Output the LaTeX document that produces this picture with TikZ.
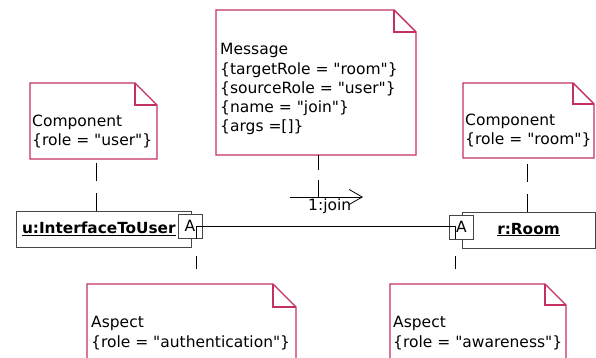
\documentclass[tikz,border=0pt]{standalone}
\usepackage{fontspec}
\newfontfamily\umlfont{DejaVu Sans}
\usetikzlibrary{arrows.meta}
\definecolor{notered}{RGB}{196,48,96}
\definecolor{boxgray}{RGB}{70,70,70}
\newcommand\dogear[2]{%
  \draw[noteline] (#1.north west) -- ([xshift=-#2pt]#1.north east) -- ([yshift=-#2pt]#1.north east) -- (#1.south east) -- (#1.south west) -- cycle;
  \draw[noteline] ([xshift=-#2pt]#1.north east) -- ([xshift=-#2pt,yshift=-#2pt]#1.north east) -- ([yshift=-#2pt]#1.north east);
}
\begin{document}
\begin{tikzpicture}[x=1pt,y=-1pt,
  every node/.style={font=\umlfont\fontsize{15.5}{19.3}\selectfont},
  notearea/.style={rectangle,inner sep=0pt,outer sep=0pt},
  noteline/.style={draw=notered,line width=1.4pt,line join=miter},
  notetext/.style={anchor=base west,align=left,inner sep=0pt},
  umlbox/.style={draw=boxgray,line width=0.9pt,fill=white,inner sep=0pt,text height=11pt,text depth=3pt,font=\umlfont\fontsize{15.3}{18}\selectfont\bfseries},
  portbox/.style={draw=boxgray,line width=0.9pt,fill=white,minimum size=24pt,inner sep=0pt},
  link/.style={draw=black,line width=0.8pt},
  anchorline/.style={draw=black,line width=0.8pt}
]
\useasboundingbox (0,0) rectangle (596,358);
\fill[white] (0,0) rectangle (596,358);
\clip (0,0) rectangle (596,358);

% notes
\node[notearea,minimum width=127pt,minimum height=76pt] (cl) at (93.5,121) {};
\node[notearea,minimum width=200pt,minimum height=145pt] (msg) at (316,82.5) {};
\node[notearea,minimum width=131pt,minimum height=75pt] (cr) at (528.5,120.5) {};
\node[notearea,minimum width=209pt,minimum height=91pt] (al) at (191.5,329.5) {};
\node[notearea,minimum width=176pt,minimum height=91pt] (ar) at (478,329.5) {};
\dogear{cl}{22}
\dogear{msg}{22}
\dogear{cr}{21}
\dogear{al}{23}
\dogear{ar}{21}

\node[notetext] (cltext) at (32,146) {Component\\\{role = "user"\}};
\node[notetext] (msgtext) at (220,132) {Message\\\{targetRole = "room"\}\\\{sourceRole = "user"\}\\\{name = "join"\}\\\{args =[]\}};
\node[notetext] (crtext) at (465,144.5) {Component\\\{role = "room"\}};
\node[notetext] (altext) at (91,347) {Aspect\\\{role = "authentication"\}};
\node[notetext] (artext) at (393,347) {Aspect\\\{role = "awareness"\}};

% component boxes
\node[umlbox,minimum width=175pt,minimum height=36pt,align=left,text width=163pt] (ui) at (103.5,229.5) {\underline{u:InterfaceToUser}};
\node[umlbox,minimum width=133pt,minimum height=36pt] (room) at (528.5,230) {\underline{r:Room}};
\node[portbox] (pl) at (190,226) {A};
\node[portbox] (pr) at (461.5,227) {A};

% link between ports
\coordinate (linkL) at (196,226);
\coordinate (linkR) at (455,226);
\draw[link] (linkL) -- (linkR);

% message arrow
\coordinate (msgA) at (290,197);
\coordinate (msgB) at (363,197);
\coordinate (msgJ) at (318,197);
\draw[link,-{Straight Barb[length=13pt,width=15pt]}] (msgA) -- (msgB);
\node[anchor=base west,inner sep=0pt] (joinlbl) at (308,210) {1:join};

% note anchors (dashed)
\draw[anchorline,dash pattern=on 18pt off 12pt] (ui.north -| 96,0) -- (cl.south -| 96,0);
\draw[anchorline,dash pattern=on 18pt off 12pt] (room.north -| 527,0) -- (cr.south -| 527,0);
\draw[anchorline,dash pattern=on 17pt off 10pt] (msgJ) -- (msgJ |- msg.south);
\draw[anchorline,dash pattern=on 13pt off 17pt] (linkL) -- (linkL |- al.north);
\draw[anchorline,dash pattern=on 13pt off 17pt] (linkR) -- (linkR |- ar.north);
\end{tikzpicture}
\end{document}
